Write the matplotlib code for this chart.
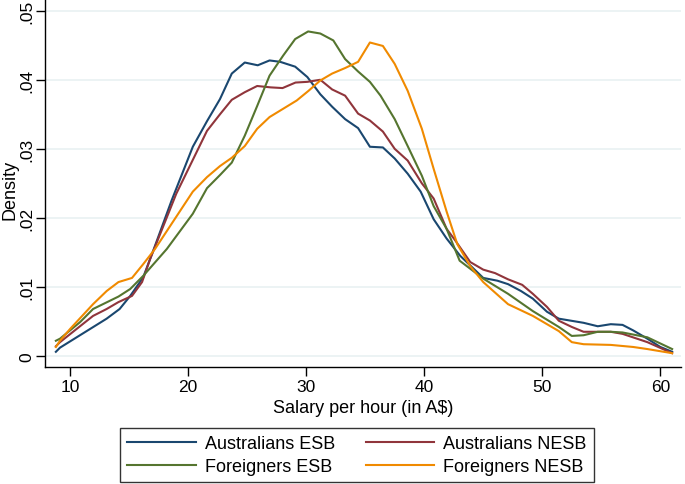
import matplotlib
matplotlib.use("Agg")
import matplotlib.pyplot as plt

plt.rcParams['font.family'] = ['Liberation Sans', 'DejaVu Sans']

# Australians ESB
aus_esb_x = [8.8, 9.15, 13.1, 14.2, 15.1, 16.2, 17.1, 18.6, 20.4, 21.6, 22.7, 23.7, 24.8, 25.9, 26.9, 27.8,
             29.07, 30.1, 31.2, 32.2, 33.3, 34.4, 35.4, 36.5, 37.5, 38.6, 39.7, 40.8, 41.9, 43.05,
             45.0, 46.2, 47.1, 48.2, 49.2, 50.4, 51.4, 53.5, 54.7, 55.8, 56.8, 57.7, 58.9, 60.0, 61.0]
aus_esb_y = [0.0006, 0.0012, 0.0054, 0.0068, 0.0087, 0.0114, 0.0155, 0.0225, 0.0303, 0.0340, 0.0372, 0.0409, 0.0425, 0.0421, 0.0428, 0.0426,
             0.0419, 0.0404, 0.0379, 0.0361, 0.0343, 0.0330, 0.0303, 0.0302, 0.0286, 0.0264, 0.0238, 0.0198, 0.0170, 0.0145,
             0.0113, 0.0109, 0.0104, 0.0094, 0.0083, 0.0064, 0.0054, 0.0048, 0.0043, 0.0046, 0.0045, 0.0037, 0.0025, 0.0013, 0.0006]

# Australians NESB
aus_nesb_x = [8.8, 9.15, 11.95, 13.1, 14.1, 15.25, 16.1, 16.8, 19.0, 21.6, 22.7, 23.7, 24.8, 25.85, 27.0, 28.0,
              29.1, 30.1, 31.2, 32.2, 33.3, 34.4, 35.4, 36.5, 37.5, 38.6, 39.8, 40.8, 41.9, 42.6, 43.9,
              45.0, 46.0, 47.1, 48.3, 49.2, 50.4, 51.4, 52.5, 53.5, 55.8, 56.8, 58.9, 61.0]
aus_nesb_y = [0.0014, 0.0020, 0.0058, 0.0068, 0.0078, 0.0087, 0.0107, 0.0141, 0.0235, 0.0326, 0.0350, 0.0371, 0.0382, 0.0391, 0.0389, 0.0388,
              0.0396, 0.0397, 0.0400, 0.0386, 0.0377, 0.0351, 0.0341, 0.0325, 0.0300, 0.0283, 0.0250, 0.0228, 0.0184, 0.0168, 0.0136,
              0.0125, 0.0120, 0.0111, 0.0103, 0.0090, 0.0071, 0.0051, 0.0042, 0.0035, 0.0035, 0.0032, 0.0020, 0.0004]

# Foreigners ESB
for_esb_x = [8.8, 9.15, 10.85, 11.95, 14.1, 15.1, 16.2, 18.2, 20.4, 21.6, 22.7, 23.7, 24.8, 25.85, 26.9, 28.05,
             29.07, 30.17, 31.2, 32.3, 33.3, 34.4, 35.4, 36.3, 37.5, 38.6, 39.8, 40.8, 41.9, 43.0,
             45.0, 47.1, 49.2, 51.4, 52.5, 53.5, 54.7, 55.8, 56.8, 58.9, 61.0]
for_esb_y = [0.0022, 0.0025, 0.0049, 0.0068, 0.0086, 0.0097, 0.0116, 0.0155, 0.0206, 0.0243, 0.0262, 0.0280, 0.0319, 0.0362, 0.0406, 0.0435,
             0.0459, 0.0470, 0.0467, 0.0457, 0.0430, 0.0412, 0.0397, 0.0377, 0.0343, 0.0304, 0.0261, 0.0217, 0.0184, 0.0138,
             0.0112, 0.0090, 0.0065, 0.0042, 0.0029, 0.0030, 0.0035, 0.0035, 0.0034, 0.0027, 0.0010]

# Foreigners NESB
for_nesb_x = [8.8, 9.15, 10.0, 11.95, 13.1, 14.1, 15.25, 16.2, 17.2, 20.4, 21.6, 22.7, 23.7, 24.8, 25.85, 26.9, 28.05,
              29.2, 30.2, 31.2, 32.2, 33.3, 34.4, 35.4, 36.5, 37.5, 38.6, 39.8, 40.8, 41.9, 42.8, 43.9,
              45.0, 47.1, 49.2, 51.4, 52.5, 53.5, 55.8, 57.7, 58.9, 61.0]
for_nesb_y = [0.0013, 0.0022, 0.0039, 0.0075, 0.0094, 0.0107, 0.0113, 0.0133, 0.0155, 0.0238, 0.0259, 0.0275, 0.0287, 0.0304, 0.0329, 0.0346, 0.0358,
              0.0370, 0.0384, 0.0399, 0.0409, 0.0417, 0.0426, 0.0454, 0.0449, 0.0423, 0.0384, 0.0329, 0.0271, 0.0209, 0.0162, 0.0130,
              0.0107, 0.0075, 0.0058, 0.0036, 0.0020, 0.0017, 0.0016, 0.0013, 0.0010, 0.0004]

labels = ["Australians ESB", "Australians NESB", "Foreigners ESB", "Foreigners NESB"]
xticks = [10, 20, 30, 40, 50, 60]
yticks = [0, 0.01, 0.02, 0.03, 0.04, 0.05]
ytick_labels = ["0", ".01", ".02", ".03", ".04", ".05"]

colors = ["#1a476f", "#90353b", "#55752f", "#f08a00"]

fig = plt.figure(figsize=(6.85, 4.85), dpi=100)
ax = fig.add_axes([45/685, 1 - 368/485, 636/685, 368/485])

series = [(aus_esb_x, aus_esb_y), (aus_nesb_x, aus_nesb_y), (for_esb_x, for_esb_y), (for_nesb_x, for_nesb_y)]
lines = []
for (xs, ys), c, lab in zip(series, colors, labels):
    l, = ax.plot(xs, ys, color=c, lw=1.5, label=lab)
    lines.append(l)

ax.set_xlim(7.88, 61.75)
ax.set_ylim(-0.0016, 0.0517)
ax.set_xticks(xticks)
ax.set_yticks(yticks)
ax.set_yticklabels(ytick_labels, rotation=90, va='center')
ax.tick_params(axis='both', labelsize=12.5, length=6.5, width=1, color='black', direction='out')
ax.tick_params(axis='y', pad=1)
ax.tick_params(axis='x', pad=2.5)
ax.grid(axis='y', color='#eaf2f3', lw=1.3)
ax.set_axisbelow(True)
for s in ['top', 'right']:
    ax.spines[s].set_visible(False)
for s in ['left', 'bottom']:
    ax.spines[s].set_linewidth(1.0)
    ax.spines[s].set_color('black')

ax.set_xlabel("Salary per hour (in A$)", fontsize=13, labelpad=3)
ax.set_ylabel("Density", fontsize=13)
ax.yaxis.set_label_coords((19 - 45) / 636, (368 - 190) / 368)

# legend order: column-major fill -> rows (Aus ESB, Aus NESB), (For ESB, For NESB)
order = [0, 2, 1, 3]
leg = fig.legend(handles=[lines[i] for i in order], labels=[labels[i] for i in order],
                 ncol=2, loc='center', bbox_to_anchor=(357/685, 1 - 456/485),
                 fontsize=13, frameon=True, fancybox=False, edgecolor='black',
                 handlelength=3.8, handletextpad=0.5, columnspacing=1.7,
                 labelspacing=0.35, borderpad=0.4)
leg.get_frame().set_linewidth(1.0)

fig.savefig("out.png", dpi=100, facecolor='white')
